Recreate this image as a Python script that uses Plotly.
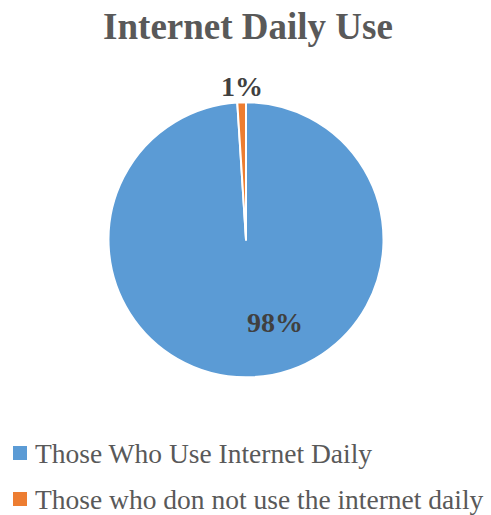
import plotly.graph_objects as go

# Survey shares (percent)
categories = ["Those Who Use Internet Daily", "Those who don not use the internet daily"]
shares = [98, 1]
slice_colors = ["#5B9BD5", "#ED7D31"]

W, H = 491, 515

fig = go.Figure()
fig.add_trace(go.Pie(
    labels=categories,
    values=shares,
    sort=False,
    direction="clockwise",
    rotation=0,
    marker=dict(colors=slice_colors, line=dict(color="white", width=2)),
    textinfo="none",
    hoverinfo="label+value",
    domain=dict(x=[108.5 / W, 383.5 / W], y=[1 - 377.5 / H, 1 - 102 / H]),
    showlegend=False,
))

# Data labels
label_pos = [(275, 322), (242, 86)]
for val, (px, py) in zip(shares, label_pos):
    fig.add_annotation(
        x=px / W, y=1 - py / H, xref="paper", yref="paper",
        text=f"<b>{val}%</b>", showarrow=False,
        font=dict(family="Liberation Serif", size=28, color="#404040"),
        xanchor="center", yanchor="middle",
    )

# Legend: colour swatch + label per category
legend_rows = [453, 499]
for name, color, cy in zip(categories, slice_colors, legend_rows):
    fig.add_shape(
        type="rect", xref="paper", yref="paper",
        x0=13 / W, x1=27 / W, y0=1 - (cy + 7) / H, y1=1 - (cy - 7) / H,
        fillcolor=color, line=dict(width=0),
    )
    fig.add_annotation(
        x=33 / W, y=1 - cy / H, xref="paper", yref="paper",
        text=name, showarrow=False,
        font=dict(family="Liberation Serif", size=27.5, color="#595959"),
        xanchor="left", yanchor="middle",
    )

fig.update_layout(
    width=W, height=H,
    margin=dict(l=0, r=0, t=0, b=0),
    paper_bgcolor="white",
    plot_bgcolor="white",
    title=dict(
        text="<b>Internet Daily Use</b>",
        x=248 / W, xanchor="center",
        y=1 - 26 / H, yanchor="middle",
        font=dict(family="Liberation Serif", size=37, color="#595959"),
    ),
    showlegend=False,
)

fig.write_html("out.html")
